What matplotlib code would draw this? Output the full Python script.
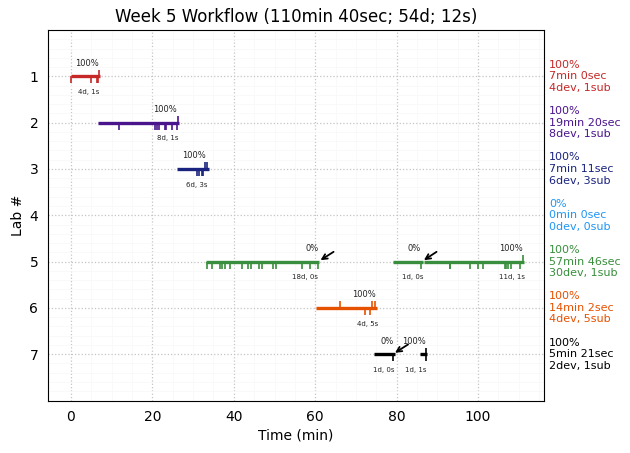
import matplotlib
matplotlib.use("Agg")
import matplotlib.pyplot as plt

labs = [1, 2, 3, 4, 5, 6, 7]
colors = ['#c62828', '#4a148c', '#1a237e', '#2196f3', '#388e3c', '#e65100', '#000000']
summaries = [
    "100%\n7min 0sec\n4dev, 1sub",
    "100%\n19min 20sec\n8dev, 1sub",
    "100%\n7min 11sec\n6dev, 3sub",
    "0%\n0min 0sec\n0dev, 0sub",
    "100%\n57min 46sec\n30dev, 1sub",
    "100%\n14min 2sec\n4dev, 5sub",
    "100%\n5min 21sec\n2dev, 1sub",
]

# (lab, start, end, development events, submission events)
segments = [
    (1, 0.0, 7.1, [0.1, 5.0, 6.3, 6.7], [7.0]),
    (2, 6.6, 26.6, [11.9, 20.7, 21.1, 21.6, 23.1, 23.3, 24.7, 26.1], [26.4]),
    (3, 26.1, 33.8, [30.9, 31.4, 32.3, 32.5], [32.8, 33.4]),
    (5, 33.2, 61.0, [33.5, 34.7, 36.7, 37.2, 37.8, 39.1, 42.1, 43.6, 44.2, 46.3,
                     47.0, 49.7, 50.4, 56.8, 58.6, 60.8], []),
    (5, 79.0, 86.4, [86.1], []),
    (5, 86.8, 111.2, [93.0, 93.2, 98.1, 100.1, 101.3, 106.7, 106.9, 107.4,
                      108.1, 110.4], [111.0]),
    (6, 60.3, 75.1, [72.3, 73.4], [66.2, 74.0, 74.7]),
    (7, 74.5, 79.5, [79.2], []),
    (7, 85.8, 87.4, [87.1], [87.1]),
]

pct_labels = [
    (1, 4.0, "100%"), (2, 23.2, "100%"), (3, 30.3, "100%"),
    (5, 59.2, "0%"), (5, 84.2, "0%"), (5, 108.0, "100%"),
    (6, 72.0, "100%"), (7, 77.7, "0%"), (7, 84.3, "100%"),
]
count_labels = [
    (1, 4.4, "4d, 1s"), (2, 23.7, "8d, 1s"), (3, 30.8, "6d, 3s"),
    (5, 57.4, "18d, 0s"), (5, 83.9, "1d, 0s"), (5, 108.3, "11d, 1s"),
    (6, 72.8, "4d, 5s"), (7, 76.9, "1d, 0s"), (7, 84.8, "1d, 1s"),
]
# (lab, tip x, tail x)
arrows = [(5, 61.3, 64.5), (5, 86.7, 89.8), (7, 79.6, 82.8)]

title = "Week 5 Workflow (110min 40sec; 54d; 12s)"

fig = plt.figure(figsize=(6.30, 4.53), dpi=100)
ax = fig.add_axes([48 / 630, 1 - 400.5 / 453, 496 / 630, 370.5 / 453])

color_of = dict(zip(labs, colors))
for lab, start, end, devs, subs in segments:
    c = color_of[lab]
    ax.plot([start, end], [lab, lab], color=c, lw=2.4, solid_capstyle='butt', zorder=3)
    ax.vlines(devs, lab, lab + 0.15, color=c, lw=1.2, zorder=3)
    ax.vlines(subs, lab - 0.14, lab, color=c, lw=1.2, zorder=3)

for lab, x, s in pct_labels:
    ax.text(x, lab - 0.28, s, fontsize=6, ha='center', va='center', color='#222222')
for lab, x, s in count_labels:
    ax.text(x, lab + 0.34, s, fontsize=5, ha='center', va='center', color='#222222')
for lab, tip, tail in arrows:
    ax.annotate("", xy=(tip, lab - 0.03), xytext=(tail, lab - 0.21),
                arrowprops=dict(arrowstyle='->', color='black', lw=1.3, shrinkA=0, shrinkB=0,
                                mutation_scale=9),
                zorder=4)

for lab, s, c in zip(labs, summaries, colors):
    ax.text(1.0105, lab, s, transform=ax.get_yaxis_transform(), fontsize=8, color=c,
            ha='left', va='center', clip_on=False)

ax.set_xlim(-5.65, 116.2)
ax.set_ylim(8, 0)
ax.set_xticks(range(0, 101, 20))
ax.set_xticks(range(0, 116, 5), minor=True)
ax.set_yticks(labs)
ax.set_yticks([y / 5 for y in range(0, 41)], minor=True)
ax.tick_params(axis='both', which='major', labelsize=10, length=0, pad=7)
ax.tick_params(axis='both', which='minor', length=0)
ax.grid(True, which='major', color='#c4c4c4', ls=':', lw=0.9, zorder=0)
ax.grid(True, which='minor', color='#f8f8f8', ls='-', lw=0.6, zorder=0)
ax.set_axisbelow(True)
ax.set_xlabel("Time (min)", fontsize=10, labelpad=3)
ax.set_ylabel("Lab #", fontsize=10, labelpad=3)
ax.set_title(title, fontsize=12)

fig.savefig("out.png", dpi=100)
